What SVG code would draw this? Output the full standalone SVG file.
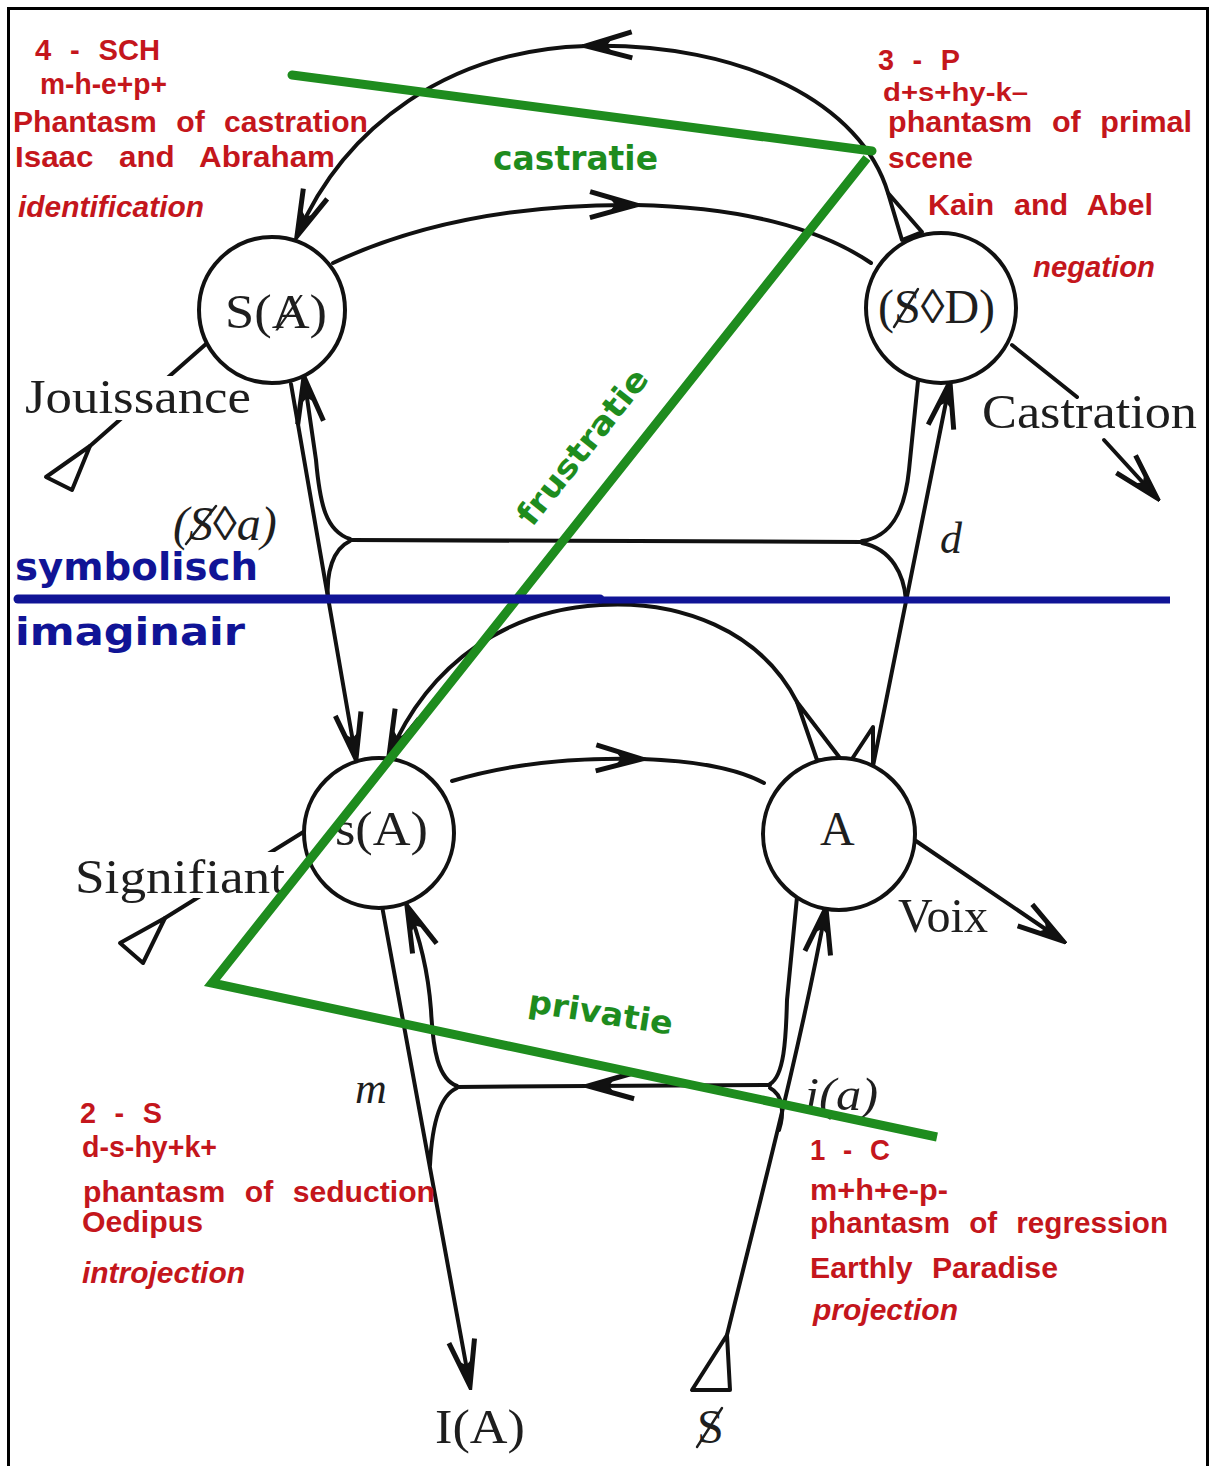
<svg xmlns="http://www.w3.org/2000/svg" width="1216" height="1466" viewBox="0 0 1216 1466">
<style>
.ln{fill:none;stroke:#111;stroke-width:4;stroke-linecap:round;stroke-linejoin:round}
.tri{fill:none;stroke:#111;stroke-width:4;stroke-linejoin:round}
.node circle{fill:#fff;stroke:#111;stroke-width:4}
.serif{font-family:"Liberation Serif","DejaVu Serif",serif;fill:#1e1e1e}
.bar{stroke:#1e1e1e;stroke-width:2.4;stroke-linecap:round}
.red{font-family:"Liberation Sans",Arial,sans-serif;font-weight:bold;fill:#c4161c;font-size:30px;word-spacing:11px}
.green{font-family:"DejaVu Sans",sans-serif;font-weight:bold;fill:#1e8c1e}
.blue{font-family:"DejaVu Sans",sans-serif;font-weight:bold;fill:#101496}
.gl{fill:none;stroke:#1e8c1e;stroke-width:9}
.bg{fill:#fff}
</style>
<defs>
<marker id="arr" viewBox="-52 -18 56 36" refX="0" refY="0" markerWidth="56" markerHeight="36" orient="auto" markerUnits="userSpaceOnUse">
<path d="M-46,-13 L0,0 L-46,13" fill="none" stroke="#111" stroke-width="5" stroke-linejoin="miter"/>
<path d="M0,0 L-28,-9 L-21,0 L-28,9 Z" fill="#111"/>
</marker>
</defs>
<rect x="0" y="0" width="1216" height="1466" fill="#fff"/>
<rect x="8.5" y="8.5" width="1199" height="1470" fill="none" stroke="#000" stroke-width="3"/>

<g id="connectors">
<path class="ln" d="M888,193 C862,105 745,42 586,46" marker-end="url(#arr)"/>
<path class="ln" d="M586,46 C450,50 345,125 297,236" marker-end="url(#arr)"/>
<polygon class="tri" points="888,193 902,240 922,232"/>
<path class="ln" d="M333,263 C420,222 520,204 636,205" marker-end="url(#arr)"/>
<path class="ln" d="M636,205 C740,207 820,228 871,263"/>
<path class="ln" d="M206,344 L90,446"/>
<polygon class="tri" points="46,477 90,446 72,490"/>
<path class="ln" d="M1012,345 L1077,397"/>
<path class="ln" d="M1104,440 L1157,498" marker-end="url(#arr)"/>
<path class="ln" d="M291,384 L356,759" marker-end="url(#arr)"/>
<path class="ln" d="M350,539 C326,531 320,505 316,460 L304,377" marker-end="url(#arr)"/>
<path class="ln" d="M350,541 C333,549 326,572 328,600"/>
<path class="ln" d="M350,540 L862,542"/>
<path class="ln" d="M862,541 C892,537 905,510 909,470 L918,381"/>
<path class="ln" d="M862,543 C892,549 904,575 906,600"/>
<path class="ln" d="M873,766 L950,382" marker-end="url(#arr)"/>
<polygon class="tri" points="873,727 850,762 873,767"/>
<path class="ln" d="M797,702 C760,630 680,600 600,605 C510,610 430,660 389,756" marker-end="url(#arr)"/>
<polygon class="tri" points="797,702 817,760 843,762"/>
<path class="ln" d="M452,781 C505,765 565,757 642,759" marker-end="url(#arr)"/>
<path class="ln" d="M642,759 C700,761 740,770 764,783"/>
<path class="ln" d="M305,831 L165,918"/>
<polygon class="tri" points="120,943 165,918 143,963"/>
<path class="ln" d="M916,841 L1063,941" marker-end="url(#arr)"/>
<path class="ln" d="M382,906 L470,1386" marker-end="url(#arr)"/>
<path class="ln" d="M457,1086 C438,1079 433,1050 431,1010 C428,970 419,935 407,906" marker-end="url(#arr)"/>
<path class="ln" d="M457,1088 C440,1095 432,1125 430,1165"/>
<path class="ln" d="M770,1085 L588,1086" marker-end="url(#arr)"/>
<path class="ln" d="M588,1086 L457,1087"/>
<path class="ln" d="M770,1084 C784,1076 786,1040 787,1000 L797,897"/>
<path class="ln" d="M770,1088 C784,1095 784,1115 779,1130"/>
<path class="ln" d="M727,1335 C760,1200 800,1050 826,908" marker-end="url(#arr)"/>
<polygon class="tri" points="692,1390 730,1390 727,1335"/>
</g>

<g id="label-backgrounds">
<rect class="bg" x="22" y="376" width="222" height="44"/>
<rect class="bg" x="72" y="852" width="213" height="46"/>
</g>

<g id="node-S-barredA" class="node">
<circle cx="272" cy="310" r="73"/>
<text class="serif" x="225" y="328" font-size="48" textLength="102" lengthAdjust="spacingAndGlyphs">S(Ⱥ)</text>
</g>
<g id="node-barredS-D" class="node">
<circle cx="941" cy="308" r="75"/>
<text class="serif" x="878" y="323" font-size="48">(S◊D)</text>
<line class="bar" x1="894" y1="327" x2="918" y2="289"/>
</g>
<g id="node-s-A" class="node">
<circle cx="379" cy="833" r="75"/>
<text class="serif" x="335" y="845" font-size="48" textLength="93" lengthAdjust="spacingAndGlyphs">s(A)</text>
</g>
<g id="node-A" class="node">
<circle cx="839" cy="834" r="76"/>
<text class="serif" x="820" y="845" font-size="48">A</text>
</g>

<g id="labels">
<text class="serif" x="25" y="413" font-size="48" textLength="226" lengthAdjust="spacingAndGlyphs">Jouissance</text>
<text class="serif" x="173" y="540" font-size="48" font-style="italic">(S◊a)</text>
<line class="bar" x1="186" y1="544" x2="216" y2="506"/>
<text class="serif" x="940" y="553" font-size="44" font-style="italic">d</text>
<text class="serif" x="982" y="428" font-size="48" textLength="215" lengthAdjust="spacingAndGlyphs">Castration</text>
<text class="serif" x="75" y="893" font-size="48" textLength="210" lengthAdjust="spacingAndGlyphs">Signifiant</text>
<text class="serif" x="898" y="932" font-size="48" textLength="90" lengthAdjust="spacingAndGlyphs">Voix</text>
<text class="serif" x="355" y="1103" font-size="44" font-style="italic">m</text>
<text class="serif" x="805" y="1110" font-size="46" font-style="italic" textLength="73" lengthAdjust="spacingAndGlyphs">i(a)</text>
<text class="serif" x="435" y="1443" font-size="48" textLength="90" lengthAdjust="spacingAndGlyphs">I(A)</text>
<text class="serif" x="697" y="1443" font-size="48">S</text>
<line class="bar" x1="697" y1="1447" x2="722" y2="1408"/>
</g>

<g id="red-labels" class="red">
<text x="35" y="60" textLength="125" lengthAdjust="spacingAndGlyphs">4 - SCH</text>
<text x="40" y="94" textLength="127" lengthAdjust="spacingAndGlyphs">m-h-e+p+</text>
<text x="13" y="132" textLength="355" lengthAdjust="spacingAndGlyphs">Phantasm of castration</text>
<text x="15" y="167" textLength="320" lengthAdjust="spacingAndGlyphs" style="word-spacing:16px">Isaac and Abraham</text>
<text x="18" y="217" font-style="italic" textLength="186" lengthAdjust="spacingAndGlyphs">identification</text>
<text x="878" y="70" textLength="82" lengthAdjust="spacingAndGlyphs">3 - P</text>
<text x="883" y="101" font-size="26" textLength="145" lengthAdjust="spacingAndGlyphs">d+s+hy-k–</text>
<text x="888" y="132" textLength="304" lengthAdjust="spacingAndGlyphs">phantasm of primal</text>
<text x="888" y="168" textLength="85" lengthAdjust="spacingAndGlyphs">scene</text>
<text x="928" y="215" textLength="225" lengthAdjust="spacingAndGlyphs">Kain and Abel</text>
<text x="1033" y="277" font-style="italic" textLength="122" lengthAdjust="spacingAndGlyphs">negation</text>
<text x="80" y="1123" textLength="82" lengthAdjust="spacingAndGlyphs">2 - S</text>
<text x="82" y="1157" textLength="135" lengthAdjust="spacingAndGlyphs">d-s-hy+k+</text>
<text x="83" y="1202" textLength="352" lengthAdjust="spacingAndGlyphs">phantasm of seduction</text>
<text x="82" y="1232" textLength="121" lengthAdjust="spacingAndGlyphs">Oedipus</text>
<text x="82" y="1283" font-style="italic" textLength="163" lengthAdjust="spacingAndGlyphs">introjection</text>
<text x="810" y="1160" textLength="80" lengthAdjust="spacingAndGlyphs">1 - C</text>
<text x="810" y="1200" textLength="138" lengthAdjust="spacingAndGlyphs">m+h+e-p-</text>
<text x="810" y="1233" textLength="358" lengthAdjust="spacingAndGlyphs">phantasm of regression</text>
<text x="810" y="1278" textLength="248" lengthAdjust="spacingAndGlyphs">Earthly Paradise</text>
<text x="813" y="1320" font-style="italic" textLength="145" lengthAdjust="spacingAndGlyphs">projection</text>
</g>

<g id="green-triangle">
<path class="gl" d="M292,75 L872,151" stroke-linecap="round"/>
<polyline class="gl" points="867,158 212,983 937,1137" stroke-linejoin="miter"/>
<text class="green" x="493" y="170" font-size="34" textLength="165" lengthAdjust="spacingAndGlyphs">castratie</text>
<text class="green" x="532" y="528" font-size="32" textLength="190" lengthAdjust="spacingAndGlyphs" transform="rotate(-51.5 532 528)">frustratie</text>
<text class="green" x="527" y="1012" font-size="32" textLength="146" lengthAdjust="spacingAndGlyphs" transform="rotate(9 527 1012)">privatie</text>
</g>

<g id="blue-divider">
<path d="M18,599 L600,599" stroke="#101496" stroke-width="9" stroke-linecap="round" fill="none"/>
<path d="M600,600 L1170,600" stroke="#101496" stroke-width="7" fill="none"/>
<text class="blue" x="15" y="580" font-size="37" textLength="243" lengthAdjust="spacingAndGlyphs">symbolisch</text>
<text class="blue" x="15" y="645" font-size="37" textLength="230" lengthAdjust="spacingAndGlyphs">imaginair</text>
</g>
</svg>
